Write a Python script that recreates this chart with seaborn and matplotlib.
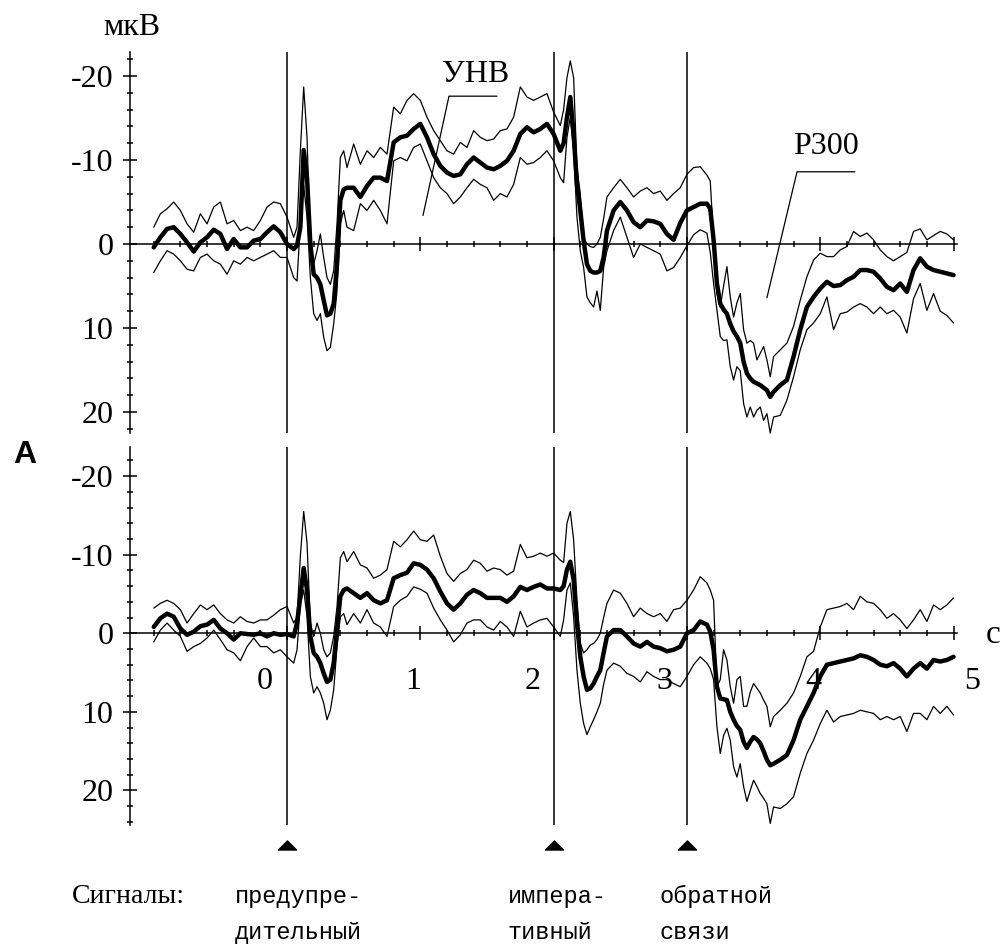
import numpy as np
import pandas as pd
import matplotlib
matplotlib.use("Agg")
import matplotlib.pyplot as plt
import matplotlib.transforms as mtransforms
from matplotlib.path import Path
from matplotlib.ticker import MultipleLocator, FixedLocator
import seaborn as sns

# ---------------- data (time in s, amplitude in мкВ, negative is plotted upward) ----------------
time_s = (
    [-1.00, -0.95, -0.90, -0.85, -0.80, -0.75, -0.70, -0.65, -0.60, -0.55, -0.50,
     -0.45, -0.40, -0.35, -0.30, -0.25, -0.20, -0.15, -0.10, -0.05, 0.00, 0.05]
    + [0.075, 0.10, 0.125, 0.15, 0.175, 0.20, 0.225, 0.25, 0.275, 0.30, 0.325, 0.35, 0.375, 0.40, 0.425]
    + [0.45, 0.50, 0.55, 0.60, 0.65, 0.70, 0.75, 0.80, 0.85, 0.90, 0.95, 1.00, 1.05, 1.10, 1.15,
       1.20, 1.25, 1.30, 1.35, 1.40, 1.45, 1.50, 1.55, 1.60, 1.65, 1.70, 1.75, 1.80, 1.85, 1.90,
       1.95, 2.00, 2.05]
    + [2.075, 2.10, 2.125, 2.15, 2.175, 2.20, 2.225, 2.25, 2.275, 2.30, 2.325, 2.35, 2.375, 2.40]
    + [2.45, 2.50, 2.55, 2.60, 2.65, 2.70, 2.75, 2.80, 2.85, 2.90, 2.95, 3.00, 3.05, 3.10, 3.15]
    + [3.175, 3.20, 3.225, 3.25, 3.275, 3.30, 3.325, 3.35, 3.375, 3.40, 3.425, 3.45, 3.475, 3.50,
       3.525, 3.55, 3.575, 3.60, 3.625, 3.65]
    + [3.70, 3.75, 3.80, 3.85, 3.90, 3.95, 4.00, 4.05, 4.10, 4.15, 4.20, 4.25, 4.30, 4.35, 4.40,
       4.45, 4.50, 4.55, 4.60, 4.65, 4.70, 4.75, 4.80, 4.85, 4.90, 4.95, 5.00]
)

top_mean = (
    [0.4, -0.8, -1.8, -2.0, -1.2, -0.2, 0.9, -0.2, -0.8, -1.7, -1.2,
     0.6, -0.6, 0.4, 0.4, -0.4, -0.6, -1.4, -2.1, -1.4, 0.0, 0.6]
    + [0.2, -2.0, -11.2, -7.9, 0.0, 3.6, 4.0, 4.8, 6.7, 8.5, 8.3, 7.1, 2.4, -5.2, -6.5]
    + [-6.7, -6.7, -5.6, -6.9, -7.9, -7.9, -7.5, -12.1, -12.7, -12.9, -13.7, -14.3, -12.7, -10.7, -9.3,
       -8.5, -8.1, -8.3, -9.5, -10.3, -9.7, -9.1, -8.9, -9.3, -9.9, -11.1, -13.1, -13.9, -13.3, -13.7,
       -14.3, -13.1, -11.1]
    + [-12.0, -15.1, -17.5, -13.1, -7.1, -4.0, -0.4, 2.4, 3.2, 3.4, 3.4, 3.2, 1.6, -1.6]
    + [-4.0, -5.0, -4.0, -2.6, -2.0, -2.8, -2.7, -2.4, -1.2, -0.5, -2.5, -4.0, -4.4, -4.8, -4.8]
    + [-4.2, -0.5, 4.7, 7.1, 7.8, 8.3, 9.5, 10.4, 11.0, 11.8, 14.0, 15.4, 16.0, 16.4,
       16.6, 16.8, 17.1, 17.4, 18.2, 17.6]
    + [16.8, 16.2, 13.4, 10.2, 7.5, 6.3, 5.3, 4.5, 5.0, 4.9, 4.3, 3.9, 3.1, 3.1, 3.3,
       4.1, 5.1, 5.5, 4.7, 5.7, 3.1, 1.7, 2.7, 3.1, 3.3, 3.5, 3.7]
)
top_upper = (
    [-2.0, -3.6, -4.2, -5.0, -4.0, -2.4, -1.4, -3.6, -2.4, -4.4, -5.0,
     -2.4, -2.8, -1.6, -2.0, -1.6, -2.8, -4.4, -5.0, -4.8, -3.2, -0.8]
    + [-2.0, -11.1, -18.7, -12.7, 0.0, 2.4, 0.8, -1.2, 1.6, 4.0, 4.8, 3.2, -2.4, -10.3, -11.1]
    + [-9.1, -11.9, -9.5, -11.1, -10.3, -11.5, -10.7, -16.3, -15.5, -17.1, -17.9, -17.1, -15.1, -13.5, -12.3,
       -11.1, -10.7, -12.1, -11.5, -13.5, -12.7, -12.3, -12.5, -13.5, -13.7, -15.1, -18.7, -17.5, -17.1, -17.5,
       -17.9, -15.7, -14.1]
    + [-16.0, -19.8, -21.8, -19.8, -9.1, -6.0, -0.8, 0.0, 0.3, 0.4, 0.0, -0.8, -3.0, -5.6]
    + [-6.7, -7.7, -6.7, -5.6, -6.3, -6.7, -6.0, -6.3, -5.2, -6.0, -6.7, -8.3, -9.1, -9.2, -8.2]
    + [-7.5, -0.5, 5.9, 7.5, 5.0, 2.7, 6.3, 8.7, 7.0, 5.9, 10.2, 11.8, 11.5, 11.8,
       13.8, 13.0, 12.2, 13.8, 15.8, 13.4]
    + [12.6, 11.8, 9.8, 6.7, 3.9, 1.9, 1.1, 1.5, 1.5, 0.7, 0.3, -1.5, -0.9, -1.3, -0.5,
       0.7, 1.5, 2.0, 1.5, 1.0, -1.5, -1.8, -0.5, -1.0, -1.5, -1.2, -0.5]
)
top_lower = (
    [3.4, 2.0, 0.8, 1.2, 2.0, 3.0, 3.2, 1.6, 1.2, 2.0, 2.4,
     3.6, 2.0, 2.4, 1.6, 2.0, 1.6, 1.2, 0.8, 1.6, 1.6, 4.0]
    + [4.4, -2.4, -7.0, -3.2, 4.0, 8.3, 9.1, 8.3, 11.1, 12.7, 12.3, 9.5, 5.6, -2.4, -4.0]
    + [-2.0, -1.6, -4.8, -4.0, -5.2, -4.0, -2.4, -9.9, -10.3, -9.9, -11.5, -11.9, -9.9, -7.9, -6.7,
       -6.0, -4.8, -5.6, -6.7, -7.7, -7.1, -6.7, -5.2, -6.0, -5.6, -7.1, -10.3, -9.5, -9.7, -10.3,
       -11.1, -9.9, -7.9]
    + [-7.3, -12.7, -15.1, -11.1, -3.2, 0.8, 2.8, 6.3, 7.0, 7.5, 5.6, 7.9, 2.8, 0.8]
    + [-1.6, -3.2, -0.8, 1.6, 0.0, 0.4, 0.8, 1.2, 3.2, 2.8, 1.6, 0.2, -1.1, -1.7, -1.3]
    + [1.0, 4.7, 7.9, 11.0, 11.5, 11.4, 14.6, 16.2, 14.6, 15.1, 19.0, 20.6, 19.4, 20.6,
       19.8, 19.4, 21.0, 20.2, 22.5, 20.6]
    + [20.4, 18.6, 15.8, 12.6, 10.2, 9.4, 8.3, 6.3, 10.2, 8.3, 8.1, 7.5, 7.1, 7.5, 8.3,
       7.5, 8.3, 7.9, 8.7, 10.6, 6.5, 4.7, 7.9, 5.9, 8.0, 8.5, 9.4]
)

bot_mean = (
    [-0.8, -1.9, -2.5, -2.1, -0.6, 0.2, -0.2, -0.9, -1.1, -1.7, -0.6,
     0.0, 0.8, 0.0, 0.1, 0.2, 0.0, 0.4, 0.0, 0.2, 0.1, 0.4]
    + [-1.3, -4.7, -8.3, -5.5, 0.4, 2.5, 3.0, 3.8, 5.1, 6.2, 5.9, 3.8, -0.4, -4.7, -5.5]
    + [-5.7, -5.1, -4.5, -5.1, -4.2, -3.8, -4.2, -7.0, -7.4, -7.7, -8.9, -8.7, -8.1, -7.0, -5.3,
       -3.8, -3.0, -3.8, -4.9, -5.5, -5.1, -4.5, -4.5, -4.5, -4.0, -4.7, -5.9, -5.5, -5.9, -6.2,
       -5.7, -5.7, -5.5]
    + [-6.0, -8.1, -9.1, -6.8, -1.3, 3.0, 5.5, 7.2, 7.0, 6.4, 5.5, 4.7, 2.5, 0.4]
    + [-0.4, -0.4, 0.4, 1.3, 1.7, 1.1, 1.7, 1.9, 2.3, 2.1, 1.7, 0.0, -0.4, -1.5, -1.1]
    + [-0.2, 2.1, 6.8, 8.3, 8.4, 8.5, 10.0, 11.0, 11.8, 12.3, 13.8, 14.6, 13.8, 13.2,
       13.5, 14.0, 15.0, 16.1, 16.8, 16.6]
    + [16.1, 15.5, 13.6, 11.0, 9.3, 7.6, 5.5, 4.0, 3.8, 3.6, 3.4, 3.2, 2.8, 3.0, 3.4,
       4.0, 4.2, 3.8, 4.5, 5.5, 4.5, 3.8, 4.5, 3.4, 3.6, 3.4, 3.0]
)
bot_upper = (
    [-3.2, -3.8, -4.2, -3.8, -3.0, -1.3, -2.5, -3.6, -3.0, -3.6, -2.5,
     -1.7, -1.3, -2.1, -1.5, -1.3, -1.7, -1.7, -2.3, -3.0, -3.4, -1.3]
    + [-2.1, -9.8, -15.5, -11.5, -1.3, 0.4, -1.3, 0.0, 2.1, 3.0, 2.5, 0.4, -3.4, -9.6, -10.4]
    + [-9.1, -10.4, -8.7, -8.3, -7.0, -7.4, -8.1, -11.7, -11.0, -11.9, -13.0, -11.9, -11.7, -12.5, -9.8,
       -7.6, -6.6, -7.6, -8.1, -9.3, -8.9, -7.9, -8.3, -8.1, -7.4, -7.9, -11.3, -9.6, -9.8, -10.2,
       -9.8, -10.2, -9.3]
    + [-9.0, -14.0, -15.5, -11.9, -4.2, 1.3, 2.5, 2.1, 1.5, 1.3, 0.8, 0.0, -2.0, -3.8]
    + [-5.5, -5.1, -3.8, -2.1, -3.2, -2.5, -2.1, -2.5, -1.5, -3.0, -3.2, -4.2, -5.5, -7.2, -6.4]
    + [-5.5, -4.2, 6.8, 5.9, 2.1, 3.4, 6.8, 8.9, 5.9, 5.5, 9.3, 9.3, 7.5, 6.4,
       7.0, 7.6, 8.5, 9.3, 11.9, 10.6]
    + [9.8, 8.9, 7.6, 5.5, 3.0, 2.3, -0.8, -3.0, -3.2, -3.4, -3.8, -3.0, -4.7, -4.0, -3.8,
       -3.0, -1.9, -2.5, -1.7, -0.6, -1.7, -3.0, -1.5, -3.6, -3.0, -3.6, -4.5]
)
bot_lower = (
    [1.1, -0.4, -1.3, -0.4, 0.4, 2.3, 1.7, 1.3, 0.6, -0.4, 0.8,
     2.1, 2.5, 3.5, 1.7, 0.6, 1.7, 1.7, 2.5, 2.1, 3.0, 3.8]
    + [2.1, -3.8, -5.5, -2.1, 5.5, 7.6, 6.8, 7.6, 8.9, 11.0, 9.8, 7.2, 1.7, -2.1, -2.5]
    + [-1.1, -2.5, -1.3, -3.0, -1.3, -0.8, 0.4, -3.4, -4.2, -4.7, -5.9, -5.6, -5.1, -3.2, -1.7,
       -0.4, 1.1, 0.2, -1.3, -1.7, -1.7, -0.8, -0.4, -1.5, -0.8, 0.4, -2.8, -0.8, -1.3, -1.7,
       -1.9, -0.8, 0.4]
    + [-1.7, -5.5, -6.4, -2.1, 4.7, 8.9, 11.5, 12.9, 11.9, 11.0, 10.0, 8.9, 6.5, 4.7]
    + [3.8, 4.2, 5.1, 5.5, 6.2, 4.9, 5.5, 5.9, 5.9, 6.4, 6.8, 5.5, 4.0, 3.0, 3.8]
    + [4.5, 5.9, 11.9, 15.3, 13.0, 12.1, 13.6, 17.0, 18.3, 16.6, 19.5, 21.4, 20.0, 18.7,
       19.5, 20.4, 21.0, 21.7, 24.2, 22.1]
    + [22.3, 21.7, 20.8, 17.8, 15.3, 13.6, 11.5, 9.8, 11.3, 10.6, 10.4, 10.2, 9.8, 10.0, 10.2,
       11.0, 10.6, 11.0, 10.6, 12.5, 10.2, 10.2, 11.0, 9.3, 10.2, 9.3, 10.4]
)

signal_times = [0.0, 2.0, 3.0]
signal_names = [["предупре-", "дительный"], ["импера-", "тивный"], ["обратной", "связи"]]
ytick_values = [-20, -10, 0, 10, 20]
ytick_labels = ["-20", "-10", "0", "10", "20"]
xtick_values = [0, 1, 2, 3, 4, 5]
xtick_labels = ["0", "1", "2", "3", "4", "5"]

# annotation leaders (data coordinates of the top panel)
unv_leader_t = [1.02, 1.215, 1.575]
unv_leader_v = [-3.4, -17.6, -17.6]
p300_leader_t = [3.60, 3.826, 4.26]
p300_leader_v = [6.4, -8.6, -8.6]

# ---------------- style ----------------
sns.set_theme(style="white")
plt.rcParams["font.family"] = ["Liberation Serif", "DejaVu Serif"]
plt.rcParams["axes.unicode_minus"] = False
plt.rcParams["xtick.bottom"] = True
plt.rcParams["ytick.left"] = True
plt.rcParams["xtick.major.size"] = 10
plt.rcParams["ytick.major.size"] = 10
plt.rcParams["xtick.minor.size"] = 4
plt.rcParams["ytick.minor.size"] = 4
plt.rcParams["xtick.color"] = "black"
plt.rcParams["ytick.color"] = "black"

W, H = 1004, 944
fig = plt.figure(figsize=(W / 100, H / 100), dpi=100)
fig.patch.set_facecolor("white")

ax_top = fig.add_axes([130 / W, 1 - 433 / H, 827 / W, 381 / H])
ax_bot = fig.add_axes([130 / W, 1 - 825 / H, 827 / W, 378 / H])

panels = [
    (ax_top, top_mean, top_upper, top_lower, (22.5, -22.86)),
    (ax_bot, bot_mean, bot_upper, bot_lower, (24.4, -23.7)),
]

for ax, m, up, lo, ylim in panels:
    df = pd.DataFrame({"t": time_s, "mean": m, "upper": up, "lower": lo})
    for col, lw in (("upper", 0.9), ("lower", 0.9), ("mean", 3.2)):
        sns.lineplot(data=df, x="t", y=col, ax=ax, color="black", linewidth=lw,
                     estimator=None, sort=False, clip_on=False, zorder=3)
    for st in signal_times:
        ax.axvline(st, color="black", lw=1.1, zorder=2)
    ax.set_xlim(-1.178, 5.026)
    ax.set_ylim(*ylim)
    ax.set_xlabel("")
    ax.set_ylabel("")
    ax.set_facecolor("white")
    for s in ("top", "right"):
        ax.spines[s].set_visible(False)
    ax.spines["left"].set_color("black")
    ax.spines["left"].set_linewidth(1.1)
    ax.spines["bottom"].set_color("black")
    ax.spines["bottom"].set_linewidth(1.1)
    ax.spines["bottom"].set_position(("data", 0))
    ax.xaxis.set_major_locator(FixedLocator(xtick_values))
    ax.xaxis.set_minor_locator(MultipleLocator(0.2))
    ax.yaxis.set_major_locator(FixedLocator(ytick_values))
    ax.yaxis.set_minor_locator(MultipleLocator(2))
    ax.set_yticklabels(ytick_labels)
    ax.tick_params(axis="both", which="both", direction="inout", width=1.1,
                   color="black", bottom=True, left=True, top=False, right=False)
    ax.tick_params(axis="both", which="major", length=10, labelcolor="black", labelsize=23)
    ax.tick_params(axis="both", which="minor", length=4)
    ax.tick_params(axis="y", which="major", pad=7)

ax_top.tick_params(axis="x", which="both", labelbottom=False)
ax_bot.set_xticklabels(xtick_labels)
ax_bot.tick_params(axis="x", which="major", pad=19.5)

# horizontal offsets of x tick labels (as in the original drawing)
label_dx_px = [-22, -7, -21, -22, -7, 19]
for lab, dx in zip(ax_bot.get_xticklabels(), label_dx_px):
    lab.set_transform(lab.get_transform() + mtransforms.ScaledTranslation(dx / 100, 0, fig.dpi_scale_trans))

# signal triangles below the lower panel
tri = Path([(-1, -0.5), (1, -0.5), (0, 0.5), (-1, -0.5)],
           [Path.MOVETO, Path.LINETO, Path.LINETO, Path.CLOSEPOLY])
ax_bot.plot(signal_times, [-0.053] * len(signal_times), transform=ax_bot.get_xaxis_transform(),
            ls="none", marker=tri, ms=13, color="black", clip_on=False)

# annotations
ax_top.plot(unv_leader_t, unv_leader_v, color="black", lw=0.9, zorder=4)
ax_top.plot(p300_leader_t, p300_leader_v, color="black", lw=0.9, zorder=4)
ax_top.text(1.418, -20.2, "УНВ", ha="center", va="center", fontsize=23, color="black")
ax_top.text(4.04, -11.6, "Р300", ha="center", va="center", fontsize=23, color="black")

fig.text(103 / W, 1 - 35 / H, "мкВ", ha="left", va="baseline", fontsize=23, color="black")
fig.text(13 / W, 1 - 463 / H, "А", ha="left", va="baseline", fontsize=23, fontweight="bold",
         family=["Liberation Sans", "DejaVu Sans"], color="black")
fig.text(986 / W, 1 - 643 / H, "с", ha="left", va="baseline", fontsize=24, color="black")

fig.text(72 / W, 1 - 903 / H, "Сигналы:", ha="left", va="baseline", fontsize=20, color="black")
name_x_px = [235, 508, 660]
for (l1, l2), xp in zip(signal_names, name_x_px):
    fig.text(xp / W, 1 - 903 / H, l1, ha="left", va="baseline", fontsize=17,
             family=["Liberation Mono", "DejaVu Sans Mono"], color="black")
    fig.text(xp / W, 1 - 939 / H, l2, ha="left", va="baseline", fontsize=17,
             family=["Liberation Mono", "DejaVu Sans Mono"], color="black")

fig.savefig("out.png", dpi=100, facecolor="white")
